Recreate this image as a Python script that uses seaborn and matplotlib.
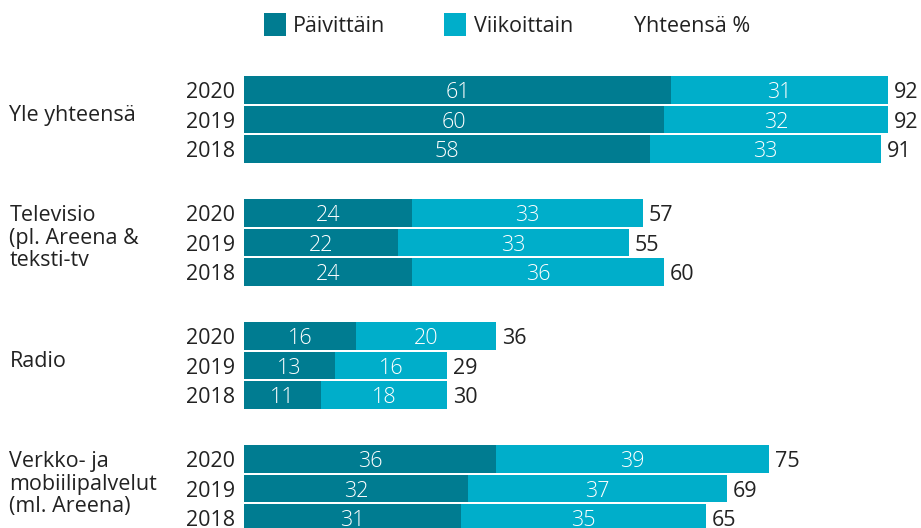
import matplotlib
matplotlib.use("Agg")
import matplotlib.pyplot as plt
import seaborn as sns
import pandas as pd
from matplotlib.patches import Rectangle

groups = ["Yle yhteensä", "Televisio\n(pl. Areena &\nteksti-tv", "Radio",
          "Verkko- ja\nmobiilipalvelut\n(ml. Areena)"]
years = ["2020", "2019", "2018"]
daily = [[61, 60, 58], [24, 22, 24], [16, 13, 11], [36, 32, 31]]
weekly = [[31, 32, 33], [33, 33, 36], [20, 16, 18], [39, 37, 35]]
totals = [[92, 92, 91], [57, 55, 60], [36, 29, 30], [75, 69, 65]]
legend_labels = ["Päivittäin", "Viikoittain", "Yhteensä %"]

DARK = "#007C91"
LIGHT = "#00AECA"
TEXT = "#222222"

sns.set_theme(style="white")
plt.rcParams["font.family"] = ["Open Sans", "DejaVu Sans"]

GROUP_GAP = 4.17
rows = []
for g in range(len(groups)):
    for i, yr in enumerate(years):
        rows.append({"pos": g * GROUP_GAP + i, "group": groups[g], "year": yr,
                     "daily": daily[g][i], "weekly": weekly[g][i],
                     "sum": daily[g][i] + weekly[g][i], "total": totals[g][i]})
df = pd.DataFrame(rows)

W, H = 921, 528
fig = plt.figure(figsize=(W / 100, H / 100), dpi=100)
ax = fig.add_axes([0, 0, 1, 1])

sns.barplot(data=df, x="sum", y="pos", orient="h", native_scale=True,
            color=LIGHT, width=0.92, errorbar=None, ax=ax, saturation=1,
            linewidth=0, edgecolor="none")
sns.barplot(data=df, x="daily", y="pos", orient="h", native_scale=True,
            color=DARK, width=0.92, errorbar=None, ax=ax, saturation=1,
            linewidth=0, edgecolor="none")

PX = 7.0  # pixels per unit
ax.set_xlim(-244 / PX, (W - 244) / PX)
ROW = 29.5
ax.set_ylim((H - 90) / ROW, -90 / ROW)
ax.axis("off")

FS = 15.5
DY = 2.5 / ROW
for _, r in df.iterrows():
    p = r["pos"] + DY
    ax.text(-1.3, p, r["year"], ha="right", va="center", fontsize=FS, color=TEXT)
    ax.text(r["daily"] / 2, p, str(r["daily"]), ha="center", va="center",
            fontsize=FS, color="white", fontweight="light")
    ax.text(r["daily"] + r["weekly"] / 2, p, str(r["weekly"]), ha="center",
            va="center", fontsize=FS, color="white", fontweight="light")
    ax.text(r["sum"] + 0.85, p, str(r["total"]), ha="left", va="center",
            fontsize=FS, color=TEXT)

for g, name in enumerate(groups):
    center = g * GROUP_GAP + 1 - 7 / ROW + DY
    ax.text(-33.5, center, name, ha="left", va="center", fontsize=FS,
            color=TEXT, linespacing=1.12)

def fx(x):
    return x / W

def fy(y):
    return 1 - y / H

for x0, col in [(264, DARK), (444, LIGHT)]:
    fig.add_artist(Rectangle((fx(x0), fy(36)), 22 / W, 23 / H,
                             transform=fig.transFigure, color=col, lw=0))
for x0, lab in zip([293, 474, 634], legend_labels):
    fig.text(fx(x0), fy(27), lab, ha="left", va="center", fontsize=FS, color=TEXT)

fig.savefig("out.png", dpi=100)
